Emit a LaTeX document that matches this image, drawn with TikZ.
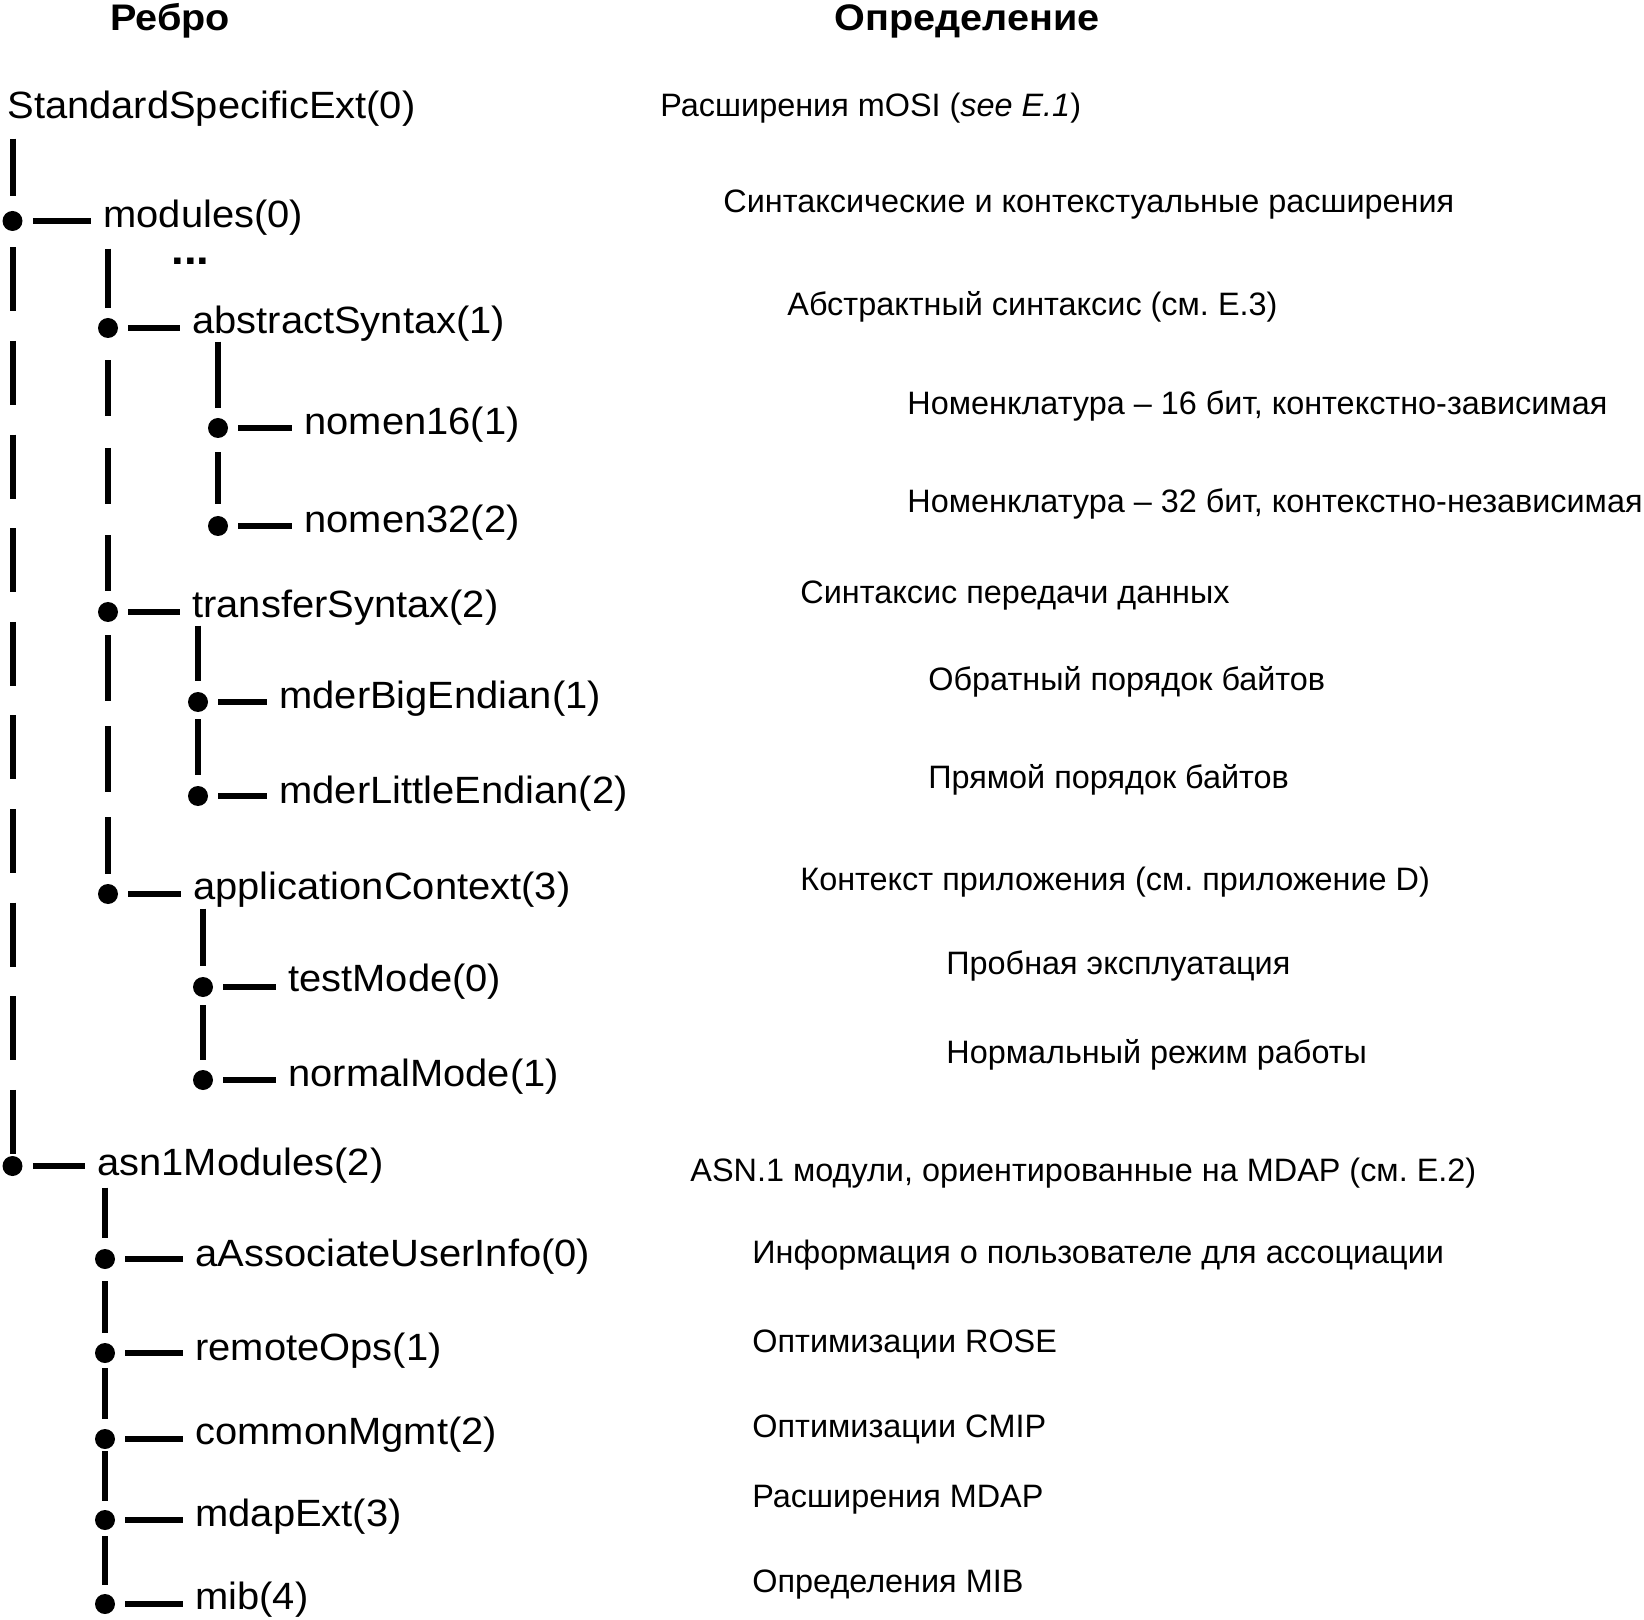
\documentclass[tikz,border=0pt]{standalone}
\usepackage{fontspec}
\setmainfont{Liberation Sans}
\newfontfamily\treefont[FakeStretch=1.05]{Liberation Sans}
\newfontfamily\deffont{Liberation Sans}
\newfontfamily\headfont[FakeStretch=1.07]{Liberation Sans}
\frenchspacing
\begin{document}
\begin{tikzpicture}[x=0.5pt,y=-0.5pt,line cap=butt,
	dot/.style={circle,fill,inner sep=0pt,minimum size=10pt},
	lbl/.style={anchor=mid west,inner sep=0pt,font=\treefont\fontsize{19}{22}\selectfont},
	def/.style={anchor=mid west,inner sep=0pt,font=\deffont\fontsize{16.2}{19}\selectfont},
	head/.style={anchor=mid west,inner sep=0pt,font=\headfont\bfseries\fontsize{18.5}{22}\selectfont},
	vline/.style={line width=3pt,shorten <=5pt,shorten >=5pt},
	stub/.style={line width=2.6pt,shorten <=5pt,shorten >=6pt}]
	\useasboundingbox (0,0) rectangle (1644,1620);
	\node[head] (hEdge) at (110,25) {Ребро};
	\node[head] (hDef) at (834,25) {Определение};
	% tree
	\node[lbl] (root) at (7,113) {StandardSpecificExt(0)};
	\node[dot] (dMod) at (12.5,221) {};
	\node[lbl] (mod) at (103,222) {modules(0)};
	\node[anchor=base west,inner sep=0pt,font=\treefont\bfseries\fontsize{21.7}{24}\selectfont] (more) at (171,265) {...};
	\node[dot] (dAbs) at (108,328) {};
	\node[lbl] (abs) at (192,328) {abstractSyntax(1)};
	\node[dot] (dN16) at (218,428) {};
	\node[lbl] (n16) at (304,429) {nomen16(1)};
	\node[dot] (dN32) at (218,526) {};
	\node[lbl] (n32) at (304,527) {nomen32(2)};
	\node[dot] (dTr) at (108,612) {};
	\node[lbl] (tr) at (192,612) {transferSyntax(2)};
	\node[dot] (dBig) at (198,702) {};
	\node[lbl] (big) at (279,703) {mderBigEndian(1)};
	\node[dot] (dLit) at (198,796) {};
	\node[lbl] (lit) at (279,798) {mderLittleEndian(2)};
	\node[dot] (dApp) at (108,894) {};
	\node[lbl] (app) at (193,894) {applicationContext(3)};
	\node[dot] (dTest) at (203,987) {};
	\node[lbl] (test) at (288,986) {testMode(0)};
	\node[dot] (dNorm) at (203,1080) {};
	\node[lbl] (norm) at (288,1081) {normalMode(1)};
	\node[dot] (dAsn) at (12.5,1166) {};
	\node[lbl] (asn) at (97,1170) {asn1Modules(2)};
	\node[dot] (dAau) at (105,1259) {};
	\node[lbl] (aau) at (195,1261) {aAssociateUserInfo(0)};
	\node[dot] (dRo) at (105,1353) {};
	\node[lbl] (ro) at (195,1355) {remoteOps(1)};
	\node[dot] (dCm) at (105,1439) {};
	\node[lbl] (cm) at (195,1439) {commonMgmt(2)};
	\node[dot] (dMe) at (105,1520) {};
	\node[lbl] (me) at (195,1521) {mdapExt(3)};
	\node[dot] (dMib) at (105,1604) {};
	\node[lbl] (mib) at (195,1604) {mib(4)};
	% vertical links
	\draw[vline,shorten <=6pt,shorten >=7.5pt] (dMod |- root.south) -- (dMod);
	\draw[vline,dash pattern=on 32pt off 14.8pt,shorten <=8pt,shorten >=0pt] (dMod) -- (dAsn);
	\draw[vline,shorten <=6.5pt] (dAbs |- mod.south) -- (dAbs);
	\draw[vline,dash pattern=on 28pt off 15.75pt,shorten <=11pt,shorten >=5.5pt] (dAbs) -- (dTr);
	\draw[vline,dash pattern=on 33pt off 12.5pt,shorten <=6.5pt] (dTr) -- (dApp);
	\draw[vline,shorten <=0pt] (dN16 |- abs.south) -- (dN16);
	\draw[vline,shorten <=7pt,shorten >=6pt] (dN16) -- (dN32);
	\draw[vline,shorten <=0pt,shorten >=5.5pt] (dBig |- tr.south) -- (dBig);
	\draw[vline,shorten <=3.5pt,shorten >=5.5pt] (dBig) -- (dLit);
	\draw[vline,shorten <=0.5pt,shorten >=5.5pt] (dTest |- app.south) -- (dTest);
	\draw[vline,shorten <=4pt] (dTest) -- (dNorm);
	\draw[vline,shorten <=2pt,shorten >=5.5pt] (dAau |- asn.south) -- (dAau);
	\draw[vline,shorten <=6pt] (dAau) -- (dRo);
	\draw[vline,shorten <=2.5pt] (dRo) -- (dCm);
	\draw[vline,shorten <=1pt,shorten >=4.5pt] (dCm) -- (dMe);
	\draw[vline,shorten <=3pt,shorten >=4.5pt] (dMe) -- (dMib);
	% stubs
	\foreach \d/\l in {dMod/mod,dAbs/abs,dN16/n16,dN32/n32,dTr/tr,dBig/big,dLit/lit,dApp/app,dTest/test,dNorm/norm,dAsn/asn,dAau/aau,dRo/ro,dCm/cm,dMe/me,dMib/mib}
		\draw[stub] (\d) -- (\d -| \l.west);
	% definitions
	\node[def] (defRoot) at (660,111) {Расширения mOSI (\textit{see E.1})};
	\node[def] (defMod) at (723,207) {Синтаксические и контекстуальные расширения};
	\node[def] (defAbs) at (787,310.5) {Абстрактный синтаксис (см. E.3)};
	\node[def] (defN16) at (907,409) {Номенклатура – 16 бит, контекстно-зависимая};
	\node[def] (defN32) at (907,507.5) {Номенклатура – 32 бит, контекстно-независимая};
	\node[def] (defTr) at (800,598) {Синтаксис передачи данных};
	\node[def] (defBig) at (928,685) {Обратный порядок байтов};
	\node[def] (defLit) at (928,783.5) {Прямой порядок байтов};
	\node[def] (defApp) at (800,885) {Контекст приложения (см. приложение D)};
	\node[def] (defTest) at (946,969) {Пробная эксплуатация};
	\node[def] (defNorm) at (946,1058) {Нормальный режим работы};
	\node[def] (defAsn) at (690,1176.5) {ASN.1 модули, ориентированные на MDAP (см. E.2)};
	\node[def] (defAau) at (752,1258.5) {Информация о пользователе для ассоциации};
	\node[def] (defRo) at (752,1347.5) {Оптимизации ROSE};
	\node[def] (defCm) at (752,1432.5) {Оптимизации CMIP};
	\node[def] (defMe) at (752,1502.5) {Расширения MDAP};
	\node[def] (defMib) at (752,1587.5) {Определения MIB};
\end{tikzpicture}
\end{document}
